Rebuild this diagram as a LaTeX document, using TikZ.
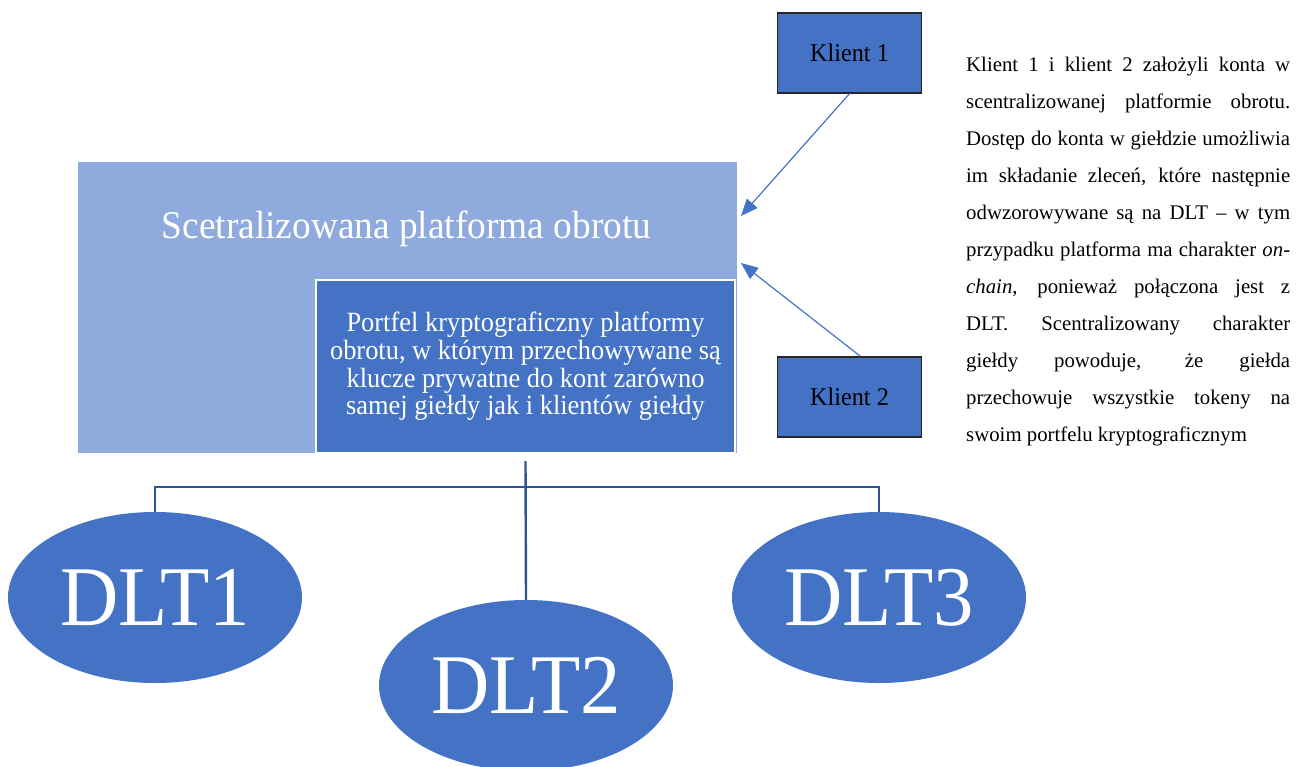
\documentclass[tikz,border=0pt]{standalone}
\usepackage{fontspec}
\setmainfont{Liberation Serif}
\newfontfamily\narrowserif{Liberation Serif}[FakeStretch=0.95]
\usetikzlibrary{shapes.geometric,arrows.meta}
\definecolor{lightblue}{HTML}{8FAADC}
\definecolor{midblue}{HTML}{4472C4}
\definecolor{treeblue}{HTML}{2F5597}
\tikzset{
  lightbox/.style={rectangle, fill=lightblue, inner sep=0pt},
  walletbox/.style={rectangle, fill=midblue, draw=white, line width=2pt, inner sep=0pt,
    text=white, align=center, font=\narrowserif\fontsize{27.8}{27.7}\selectfont},
  clientbox/.style={rectangle, fill=midblue, draw=black!85, line width=1.2pt, inner sep=0pt,
    minimum width=144pt, minimum height=80pt, font=\narrowserif\fontsize{25.5}{28}\selectfont},
  dltnode/.style={ellipse, fill=midblue, inner sep=0pt, minimum width=294pt,
    minimum height=171pt, text=white, font=\narrowserif\fontsize{85}{88}\selectfont},
  tree/.style={draw=treeblue, line width=2.4pt},
  pointer/.style={draw=midblue, line width=1.2pt, -{Triangle[length=17pt,width=14pt]}},
}
\begin{document}
\begin{tikzpicture}[x=1pt,y=-1pt]
  \useasboundingbox (0,0) rectangle (1304,766);

  % trading platform with its wallet
  \node[lightbox, minimum width=659pt, minimum height=291pt] (plat) at (407.5,307.5) {};
  \node[anchor=base, text=white, font=\narrowserif\fontsize{39.3}{42}\selectfont] (title)
    at (406.5,238) {Scetralizowana platforma obrotu};
  \node[walletbox, minimum width=419pt, minimum height=173pt] (wallet) at (525.5,366.5)
    {Portfel kryptograficzny platformy\\obrotu, w którym przechowywane są\\
     klucze prywatne do kont zarówno\\samej giełdy jak i klientów giełdy};

  % clients
  \node[clientbox] (k1) at (849.5,53) {Klient 1};
  \node[clientbox] (k2) at (849.5,397) {Klient 2};
  \coordinate (a1) at (741,216);
  \coordinate (a2) at (741,263);
  \draw[pointer] (k1.south) -- (a1);
  \draw[pointer] ([xshift=11pt]k2.north) -- (a2);

  % ledgers
  \node[dltnode] (d1) at (155,597.5) {DLT1};
  \node[dltnode] (d2) at (526,685.5) {DLT2};
  \node[dltnode] (d3) at (879,597.5) {DLT3};
  \coordinate (bus) at (525.5,487);
  \draw[tree] ([yshift=-7pt]wallet.south) -- (d2.north);
  \draw[tree] (d1.north) |- (bus) -| (d3.north);

  % explanatory note
  \node[anchor=north west, inner sep=0pt, text width=324pt, align=justify,
        font=\fontsize{20.8}{37}\selectfont] (note) at (966,57)
    {\hyphenpenalty=10000
     Klient 1 i klient 2 założyli konta w\linebreak
     scentralizowanej platformie obrotu.\linebreak
     Dostęp do konta w giełdzie umożliwia\linebreak
     im składanie zleceń, które następnie\linebreak
     odwzorowywane są na DLT – w tym\linebreak
     przypadku platforma ma charakter \textit{on-}\linebreak
     \textit{chain}, ponieważ połączona jest z\linebreak
     DLT. Scentralizowany charakter\linebreak
     giełdy powoduje, że giełda\linebreak
     przechowuje wszystkie tokeny na\linebreak
     swoim portfelu kryptograficznym};
\end{tikzpicture}
\end{document}
